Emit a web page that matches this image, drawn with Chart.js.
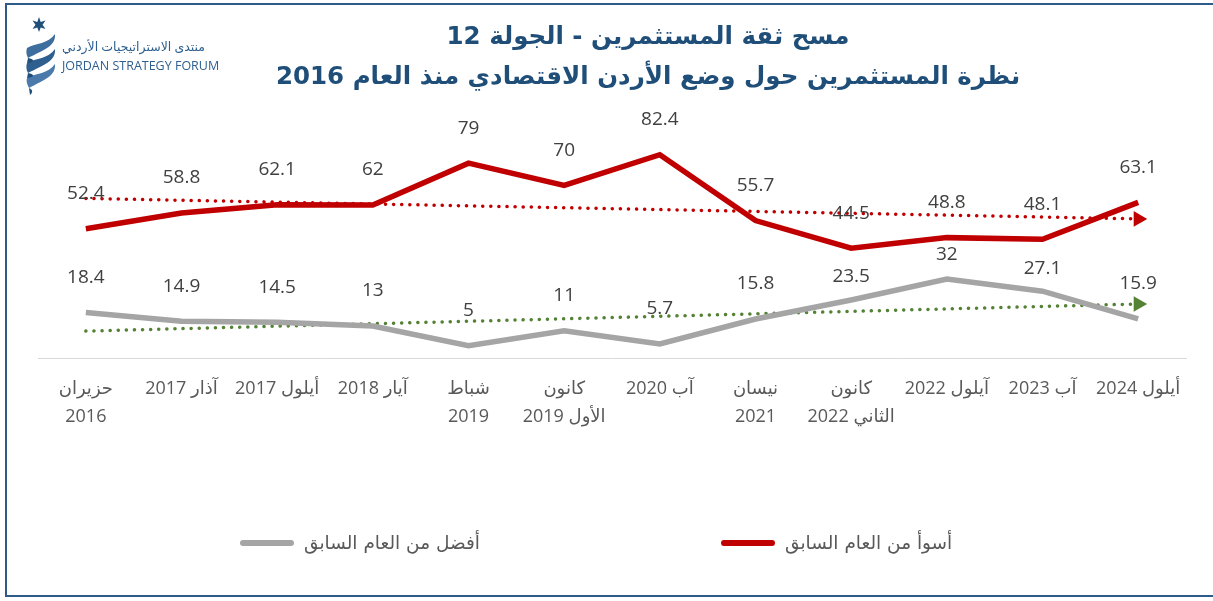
<!DOCTYPE html>
<html lang="ar">
<head>
  <meta charset="UTF-8">
  <title>مسح ثقة المستثمرين - الجولة 12</title>
  <script src="https://cdn.jsdelivr.net/npm/chart.js"></script>
  <style>
    html, body { margin: 0; padding: 0; background: #fff; }
    .frame {
      position: relative;
      width: 1213px;
      height: 601px;
      overflow: hidden;
      font-family: "DejaVu Sans", "Noto Sans", sans-serif;
    }
    .border-box {
      position: absolute;
      left: 5px; top: 3px;
      width: 1230px; height: 594px;
      border: 2px solid #2e5a87;
      box-sizing: border-box;
    }
    canvas { position: absolute; left: 0; top: 0; }
    .title {
      position: absolute;
      left: 260px; width: 776px;
      text-align: center;
      color: #1f4e79;
      font-weight: bold;
      font-size: 24.5px;
      direction: rtl;
    }
    .logo { position: absolute; left: 22px; top: 16px; }
    .logo-text {
      position: absolute; left: 62px; top: 37px;
      color: #2e5f8f; font-size: 12.5px; line-height: 19px;
      font-family: "Open Sans", "DejaVu Sans", sans-serif;
    }
    .legend {
      position: absolute; top: 532px; left: 0; width: 1213px;
      font-size: 18.5px; color: #595959;
    }
    .legend-item { position: absolute; display: flex; align-items: center; }
    .legend-item i { display: inline-block; width: 54px; height: 6px; border-radius: 3px; margin-right: 10px; }
    .legend-item span { direction: rtl; }
  </style>
</head>
<body>
<div class="frame">
  <canvas id="chart" width="1213" height="601"></canvas>
  <div class="border-box"></div>

  <svg class="logo" width="40" height="80" viewBox="0 0 40 80">
    <polygon points="17,1 18.7,6 23.5,4.5 20.5,8.7 23.5,13 18.7,11.4 17,16 15.3,11.4 10.5,13 13.5,8.7 10.5,4.5 15.3,6" fill="#1f4e79"/>
    <path d="M5,32 C14,27 26,28 33,18 C34,30 22,34 6,42 C4,38 4,35 5,32 Z" fill="#3d6e9e"/>
    <path d="M5,47 C14,42 26,43 33,33 C34,45 22,49 6,57 C4,53 4,50 5,47 Z" fill="#2e5f8f"/>
    <path d="M5,62 C14,57 26,58 33,48 C34,60 22,64 7,72 C5,68 4,65 5,62 Z" fill="#4a7aab"/>
    <path d="M6,42 C12,43 14,46 5,47 Z M6,57 C12,58 14,61 5,62 Z" fill="#1f4e79"/>
    <path d="M7,72 C11,74 11,76 8,79 Z" fill="#1f4e79"/>
  </svg>
  <div class="logo-text">
    <div style="direction: rtl; text-align: left;">منتدى الاستراتيجيات الأردني</div>
    <div>JORDAN STRATEGY FORUM</div>
  </div>

  <div class="title" style="top: 21px;">مسح ثقة المستثمرين - الجولة 12</div>
  <div class="title" style="top: 61px;">نظرة المستثمرين حول وضع الأردن الاقتصادي منذ العام 2016</div>

  <div class="legend">
    <div class="legend-item" style="left: 240px;"><i style="background:#a5a5a5"></i><span>أفضل من العام السابق</span></div>
    <div class="legend-item" style="left: 721px;"><i style="background:#c00000"></i><span>أسوأ من العام السابق</span></div>
  </div>
</div>

<script>
  // categories (left to right as in the picture)
  var categories = [
    ['حزيران', '2016'],
    'آذار 2017',
    'أيلول 2017',
    'آيار 2018',
    ['شباط', '2019'],
    ['كانون', 'الأول 2019'],
    'آب 2020',
    ['نيسان', '2021'],
    ['كانون', 'الثاني 2022'],
    'آيلول 2022',
    'آب 2023',
    'أيلول 2024'
  ];
  var worseValues = [52.4, 58.8, 62.1, 62, 79, 70, 82.4, 55.7, 44.5, 48.8, 48.1, 63.1];
  var betterValues = [18.4, 14.9, 14.5, 13, 5, 11, 5.7, 15.8, 23.5, 32, 27.1, 15.9];
  // trend line end points
  var worseTrend = [64.7, null, null, null, null, null, null, null, null, null, null, 56.4];
  var betterTrend = [10.9, null, null, null, null, null, null, null, null, null, null, 21.9];

  var RED = '#c00000';
  var GRAY = '#a5a5a5';
  var GREEN = '#548235';

  // draws the value above each point of the two main series
  var valueLabels = {
    id: 'valueLabels',
    afterDatasetsDraw: function(chart, args, opts) {
      var ctx = chart.ctx;
      ctx.save();
      ctx.font = '19px "Open Sans", "Noto Sans", sans-serif';
      ctx.fillStyle = '#404040';
      ctx.textAlign = 'center';
      ctx.textBaseline = 'middle';
      [0, 1].forEach(function(di) {
        var meta = chart.getDatasetMeta(di);
        var data = chart.data.datasets[di].data;
        var nudge = (opts.nudge && opts.nudge[di]) || {};
        meta.data.forEach(function(pt, i) {
          ctx.fillText(String(data[i]), pt.x, pt.y - 35 + (nudge[i] || 0));
        });
      });
      ctx.restore();
    }
  };

  function arrowRadius(ctx) {
    return ctx.dataIndex === categories.length - 1 ? 9 : 0;
  }

  var chart = new Chart(document.getElementById('chart'), {
    type: 'line',
    data: {
      labels: categories,
      datasets: [
        {
          label: 'أسوأ من العام السابق',
          data: worseValues,
          borderColor: RED,
          borderWidth: 5.5,
          pointRadius: 0,
          tension: 0
        },
        {
          label: 'أفضل من العام السابق',
          data: betterValues,
          borderColor: GRAY,
          borderWidth: 5.5,
          pointRadius: 0,
          tension: 0
        },
        {
          label: 'trend worse',
          data: worseTrend,
          spanGaps: true,
          borderColor: RED,
          borderWidth: 3.5,
          borderDash: [0.1, 8],
          borderCapStyle: 'round',
          pointStyle: 'triangle',
          pointRotation: 90,
          pointRadius: arrowRadius,
          pointBackgroundColor: RED,
          pointBorderWidth: 0
        },
        {
          label: 'trend better',
          data: betterTrend,
          spanGaps: true,
          borderColor: GREEN,
          borderWidth: 3.5,
          borderDash: [0.1, 8],
          borderCapStyle: 'round',
          pointStyle: 'triangle',
          pointRotation: 90,
          pointRadius: arrowRadius,
          pointBackgroundColor: GREEN,
          pointBorderWidth: 0
        }
      ]
    },
    options: {
      responsive: false,
      animation: false,
      layout: {
        padding: { left: 38, right: 27, top: 136, bottom: 0 }
      },
      scales: {
        x: {
          offset: true,
          grid: { display: false, drawTicks: false },
          border: { display: true, color: '#d9d9d9', width: 1 },
          ticks: {
            autoSkip: false,
            maxRotation: 0,
            padding: 16,
            color: '#595959',
            font: { size: 18, family: '"Open Sans", "DejaVu Sans", sans-serif', lineHeight: 1.6 }
          },
          afterFit: function(scale) { scale.height = 243; }
        },
        y: {
          display: false,
          min: 0,
          max: 90
        }
      },
      plugins: {
        legend: { display: false },
        tooltip: { enabled: false },
        valueLabels: {
          // labels moved down a little under the red line, as in the original
          nudge: { 1: { 8: 12, 9: 11, 10: 12 } }
        }
      }
    },
    plugins: [valueLabels]
  });
</script>
</body>
</html>
